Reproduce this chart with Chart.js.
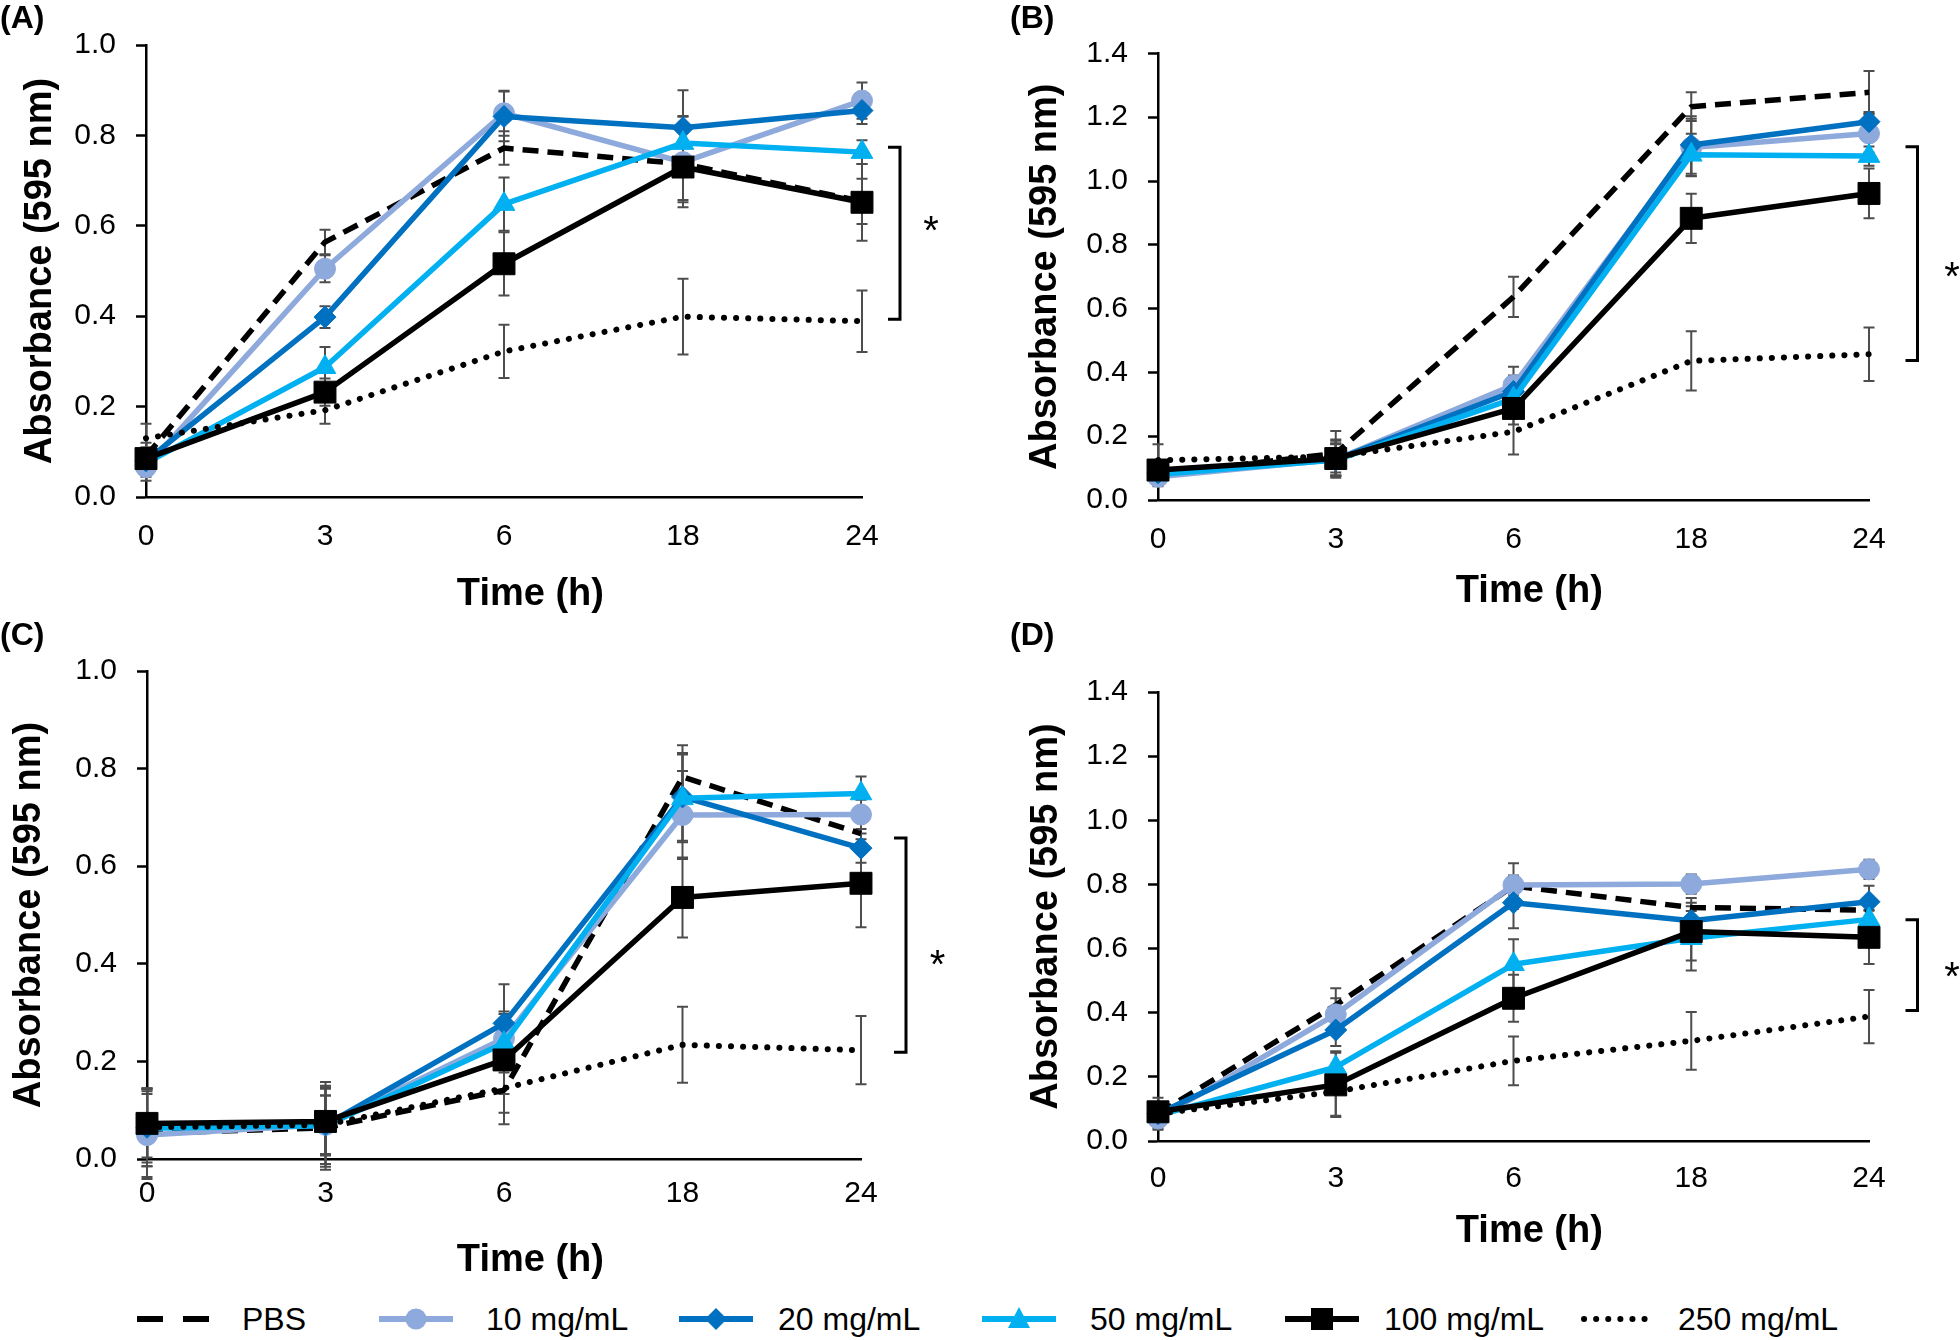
<!DOCTYPE html>
<html>
<head>
<meta charset="utf-8">
<script src="https://cdn.jsdelivr.net/npm/chart.js@4.4.1/dist/chart.umd.min.js"></script>
<style>
html,body{margin:0;padding:0;background:#fff;width:1960px;height:1340px;overflow:hidden;position:relative;font-family:"Liberation Sans",Arial,sans-serif;}
canvas{position:absolute;}
.lg-line{position:absolute;top:1297px;}
.lg-text{position:absolute;top:1297px;height:44px;line-height:44px;font-size:32px;color:#000;white-space:nowrap;}
</style>
</head>
<body>
<canvas id="cA" width="980" height="620" style="left:0px;top:0px;"></canvas>
<canvas id="cB" width="950" height="620" style="left:1010px;top:0px;"></canvas>
<canvas id="cC" width="980" height="670" style="left:0px;top:617px;"></canvas>
<canvas id="cD" width="950" height="645" style="left:1010px;top:617px;"></canvas>

<svg class="lg-line" style="left:137px" width="74" height="44"><line x1="0" y1="22" x2="74" y2="22" stroke="#000" stroke-width="6" stroke-dasharray="26 20"/></svg>
<div class="lg-text" style="left:242px">PBS</div>
<svg class="lg-line" style="left:379px" width="74" height="44"><line x1="0" y1="22" x2="74" y2="22" stroke="#8EA9DB" stroke-width="6"/><circle cx="37" cy="22" r="10.5" fill="#8EA9DB"/></svg>
<div class="lg-text" style="left:486px">10 mg/mL</div>
<svg class="lg-line" style="left:679px" width="74" height="44"><line x1="0" y1="22" x2="74" y2="22" stroke="#0070C0" stroke-width="6"/><polygon points="37,11 48,22 37,33 26,22" fill="#0070C0"/></svg>
<div class="lg-text" style="left:778px">20 mg/mL</div>
<svg class="lg-line" style="left:982px" width="74" height="44"><line x1="0" y1="22" x2="74" y2="22" stroke="#00B0F0" stroke-width="6"/><polygon points="37,10 48,31 26,31" fill="#00B0F0"/></svg>
<div class="lg-text" style="left:1090px">50 mg/mL</div>
<svg class="lg-line" style="left:1285px" width="74" height="44"><line x1="0" y1="22" x2="74" y2="22" stroke="#000" stroke-width="6"/><rect x="26" y="11" width="22" height="22" fill="#000"/></svg>
<div class="lg-text" style="left:1384px">100 mg/mL</div>
<svg class="lg-line" style="left:1580px" width="74" height="44"><line x1="4" y1="22" x2="72" y2="22" stroke="#000" stroke-width="6" stroke-linecap="round" stroke-dasharray="0.1 12"/></svg>
<div class="lg-text" style="left:1678px">250 mg/mL</div>

<script>
// ---------- DATA ----------
const timeLabels = ['0', '3', '6', '18', '24'];
const seriesNames = ['PBS', '10 mg/mL', '20 mg/mL', '50 mg/mL', '100 mg/mL', '250 mg/mL'];
const panelLabels = ['(A)', '(B)', '(C)', '(D)'];

// Panel A
const aPBS = [0.090, 0.564, 0.772, 0.737, 0.654];
const a10  = [0.066, 0.505, 0.849, 0.741, 0.877];
const a20  = [0.080, 0.398, 0.842, 0.817, 0.855];
const a50  = [0.075, 0.287, 0.648, 0.783, 0.763];
const a100 = [0.085, 0.232, 0.516, 0.730, 0.652];
const a250 = [0.130, 0.192, 0.322, 0.399, 0.389];
const aPBSerr = [0.03, 0.027, 0.037, 0.080, 0.050];
const a10err  = [0.03, 0.030, 0.050, 0.100, 0.040];
const a20err  = [0.03, 0.024, 0.055, 0.083, 0.030];
const a50err  = [0.03, 0.045, 0.059, 0.060, 0.026];
const a100err = [0.02, 0.030, 0.070, 0.078, 0.085];
const a250err = [0.032, 0.030, 0.059, 0.084, 0.068];

// Panel B
const bPBS = [0.080, 0.146, 0.637, 1.233, 1.278];
const b10  = [0.073, 0.127, 0.360, 1.105, 1.149];
const b20  = [0.085, 0.127, 0.340, 1.113, 1.186];
const b50  = [0.080, 0.125, 0.318, 1.082, 1.078];
const b100 = [0.094, 0.130, 0.287, 0.883, 0.961];
const b250 = [0.125, 0.136, 0.214, 0.436, 0.457];
const bPBSerr = [0.03, 0.070, 0.063, 0.045, 0.067];
const b10err  = [0.03, 0.050, 0.058, 0.090, 0.060];
const b20err  = [0.03, 0.050, 0.050, 0.090, 0.030];
const b50err  = [0.03, 0.050, 0.050, 0.066, 0.030];
const b100err = [0.03, 0.060, 0.050, 0.077, 0.078];
const b250err = [0.05, 0.050, 0.071, 0.093, 0.084];

// Panel C
const cPBS = [0.053, 0.064, 0.141, 0.783, 0.667];
const c10  = [0.049, 0.070, 0.247, 0.705, 0.706];
const c20  = [0.065, 0.070, 0.278, 0.742, 0.637];
const c50  = [0.063, 0.068, 0.237, 0.739, 0.749];
const c100 = [0.073, 0.077, 0.203, 0.536, 0.565];
const c250 = [0.065, 0.070, 0.145, 0.234, 0.223];
const cPBSerr = [0.090, 0.080, 0.070, 0.065, 0.030];
const c10err  = [0.090, 0.060, 0.055, 0.090, 0.030];
const c20err  = [0.080, 0.080, 0.080, 0.090, 0.030];
const c50err  = [0.070, 0.090, 0.060, 0.090, 0.035];
const c100err = [0.070, 0.070, 0.070, 0.082, 0.090];
const c250err = [0.080, 0.060, 0.050, 0.078, 0.070];

// Panel D
const dPBS = [0.085, 0.424, 0.795, 0.728, 0.720];
const d10  = [0.070, 0.395, 0.798, 0.801, 0.847];
const d20  = [0.085, 0.346, 0.743, 0.687, 0.746];
const d50  = [0.080, 0.230, 0.551, 0.632, 0.691];
const d100 = [0.091, 0.175, 0.445, 0.653, 0.635];
const d250 = [0.085, 0.154, 0.250, 0.312, 0.388];
const dPBSerr = [0.050, 0.052, 0.071, 0.030, 0.030];
const d10err  = [0.030, 0.050, 0.030, 0.030, 0.030];
const d20err  = [0.030, 0.050, 0.080, 0.030, 0.050];
const d50err  = [0.030, 0.050, 0.078, 0.100, 0.030];
const d100err = [0.030, 0.100, 0.073, 0.090, 0.083];
const d250err = [0.030, 0.075, 0.076, 0.090, 0.083];

// Significance brackets (value range spanned)
const bracketA = [0.393, 0.774];
const bracketB = [0.437, 1.107];
const bracketC = [0.219, 0.658];
const bracketD = [0.407, 0.690];

// ---------- STYLES ----------
const seriesStyles = [
  {color: '#000000', dash: [16, 9], width: 5.5, point: false, radius: 0, cap: 'butt'},
  {color: '#8EA9DB', dash: [], width: 5.5, point: 'circle', radius: 10.5, cap: 'round'},
  {color: '#0070C0', dash: [], width: 5.5, point: 'rectRot', radius: 11, cap: 'round'},
  {color: '#00B0F0', dash: [], width: 5.5, point: 'triangle', radius: 12.5, cap: 'round'},
  {color: '#000000', dash: [], width: 5.5, point: 'rect', radius: 15.5, cap: 'round'},
  {color: '#000000', dash: [0.1, 12], width: 6, point: false, radius: 0, cap: 'round'}
];

const FONT = '"Liberation Sans", Arial, sans-serif';
Chart.defaults.font.family = FONT;
Chart.defaults.color = '#000';

const errorBarPlugin = {
  id: 'errorBars',
  beforeDatasetsDraw(chart) {
    const ctx = chart.ctx, xs = chart.scales.x, ys = chart.scales.y;
    ctx.save();
    ctx.strokeStyle = '#4d4d4d';
    ctx.lineWidth = 2;
    chart.data.datasets.forEach(ds => {
      ds.errors.forEach((e, i) => {
        const v = ds.data[i];
        const px = xs.getPixelForValue(i);
        const t = ys.getPixelForValue(v + e), b = ys.getPixelForValue(v - e);
        ctx.beginPath();
        ctx.moveTo(px, t); ctx.lineTo(px, b);
        ctx.moveTo(px - 5.5, t); ctx.lineTo(px + 5.5, t);
        ctx.moveTo(px - 5.5, b); ctx.lineTo(px + 5.5, b);
        ctx.stroke();
      });
    });
    ctx.restore();
  }
};

const bracketPlugin = {
  id: 'sigBracket',
  afterDraw(chart, args, opts) {
    const ys = chart.scales.y, ca = chart.chartArea, ctx = chart.ctx;
    const bx = ca.right + opts.dx;
    const t = ys.getPixelForValue(opts.range[1]);
    const b = ys.getPixelForValue(opts.range[0]);
    ctx.save();
    ctx.strokeStyle = '#000';
    ctx.lineWidth = 3;
    ctx.beginPath();
    ctx.moveTo(bx - 12, t); ctx.lineTo(bx, t); ctx.lineTo(bx, b); ctx.lineTo(bx - 12, b);
    ctx.stroke();
    ctx.fillStyle = '#000';
    ctx.font = '40px ' + FONT;
    ctx.textAlign = 'center';
    ctx.textBaseline = 'middle';
    ctx.fillText('*', bx + opts.starDx, (t + b) / 2 + opts.starDy);
    ctx.restore();
  }
};

function makeDatasets(vals, errs) {
  return vals.map((v, i) => {
    const s = seriesStyles[i];
    return {
      label: seriesNames[i],
      data: v,
      errors: errs[i],
      borderColor: s.color,
      backgroundColor: s.color,
      borderWidth: s.width,
      borderDash: s.dash,
      borderCapStyle: s.cap,
      borderJoinStyle: 'round',
      pointStyle: s.point,
      pointRadius: s.radius,
      pointHoverRadius: s.radius,
      pointBorderWidth: 1,
      pointBorderColor: s.color,
      pointBackgroundColor: s.color,
      tension: 0,
      fill: false,
      order: 6 - i
    };
  });
}

function makeChart(id, label, vals, errs, g) {
  new Chart(document.getElementById(id), {
    type: 'line',
    data: {labels: timeLabels, datasets: makeDatasets(vals, errs)},
    options: {
      responsive: false,
      animation: false,
      devicePixelRatio: 1,
      layout: {padding: {left: 0, top: 0, right: g.padR, bottom: g.padB}},
      plugins: {
        legend: {display: false},
        tooltip: {enabled: false},
        title: {
          display: true, text: label, align: 'start', color: '#000',
          font: {family: FONT, size: 32, weight: 'bold'},
          padding: {top: 0, bottom: g.titlePb}
        },
        sigBracket: {range: g.bracket, dx: g.bracketDx, starDx: g.starDx, starDy: g.starDy}
      },
      scales: {
        x: {
          type: 'category',
          offset: false,
          grid: {display: false, drawTicks: false, tickLength: 0},
          border: {display: true, color: '#000', width: 2.5},
          ticks: {font: {family: FONT, size: 30}, color: '#000', padding: g.xTickPad, maxRotation: 0, autoSkip: false},
          title: {display: true, text: g.xTitle, color: '#000', font: {family: FONT, size: 38, weight: 'bold'}, padding: {top: 0, bottom: 0}},
          afterFit: s => { s.height = g.xH; }
        },
        y: {
          min: 0, max: g.yMax,
          grid: {display: true, drawOnChartArea: false, drawTicks: true, tickLength: 10, tickWidth: 2.5, tickColor: '#000', color: '#000'},
          border: {display: true, color: '#000', width: 2.5},
          ticks: {stepSize: 0.2, font: {family: FONT, size: 30}, color: '#000', padding: 20, callback: v => Number(v).toFixed(1)},
          title: {display: true, text: 'Absorbance (595 nm)', color: '#000', font: {family: FONT, size: 38, weight: 'bold'}, padding: {top: g.ytPad, bottom: 0}},
          afterFit: s => { s.width = g.yW; }
        }
      }
    },
    plugins: [errorBarPlugin, bracketPlugin]
  });
}

makeChart('cA', panelLabels[0],
  [aPBS, a10, a20, a50, a100, a250],
  [aPBSerr, a10err, a20err, a50err, a100err, a250err],
  {padR: 118, padB: 3, titlePb: 6.6, xH: 120, xTickPad: 22, yW: 146, ytPad: 18, yMax: 1.0,
   bracket: bracketA, bracketDx: 38, starDx: 31, starDy: 0, xTitle: '     Time (h)'});

makeChart('cB', panelLabels[1],
  [bPBS, b10, b20, b50, b100, b250],
  [bPBSerr, b10err, b20err, b50err, b100err, b250err],
  {padR: 91, padB: 6, titlePb: 15, xH: 114, xTickPad: 22, yW: 148, ytPad: 12.8, yMax: 1.4,
   bracket: bracketB, bracketDx: 48.5, starDx: 34.5, starDy: 25, xTitle: '   Time (h)'});

makeChart('cC', panelLabels[2],
  [cPBS, c10, c20, c50, c100, c250],
  [cPBSerr, c10err, c20err, c50err, c100err, c250err],
  {padR: 119, padB: 4, titlePb: 15.6, xH: 124, xTickPad: 17, yW: 147, ytPad: 7, yMax: 1.0,
   bracket: bracketC, bracketDx: 45, starDx: 31.5, starDy: 22, xTitle: '     Time (h)'});

makeChart('cD', panelLabels[3],
  [dPBS, d10, d20, d50, d100, d250],
  [dPBSerr, d10err, d20err, d50err, d100err, d250err],
  {padR: 91, padB: 8, titlePb: 36.6, xH: 113, xTickPad: 20, yW: 148, ytPad: 14, yMax: 1.4,
   bracket: bracketD, bracketDx: 48.5, starDx: 34.5, starDy: 14, xTitle: '   Time (h)'});
</script>
</body>
</html>
